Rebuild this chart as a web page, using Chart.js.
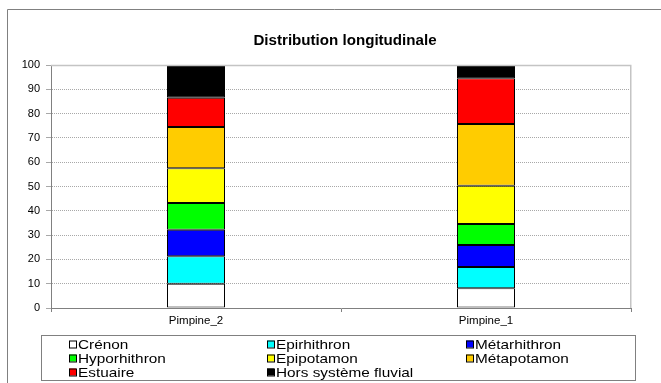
<!DOCTYPE html>
<html>
<head>
<meta charset="utf-8">
<script src="https://cdn.jsdelivr.net/npm/chart.js@4/dist/chart.umd.min.js"></script>
<style>
  html, body { margin: 0; padding: 0; background: #ffffff; }
  #wrap { width: 661px; height: 383px; position: relative; }
</style>
</head>
<body>
<div id="wrap"><canvas id="chart" width="661" height="383"></canvas></div>
<script>
// Stations along the river
const categories = ['Pimpine_2', 'Pimpine_1'];

// Share (%) of each longitudinal zone, per station
const zoneNames = ['Crénon', 'Epirhithron', 'Métarhithron', 'Hyporhithron',
                   'Epipotamon', 'Métapotamon', 'Estuaire', 'Hors système fluvial'];
const crenon       = [10.0, 8.1];
const epirhithron  = [11.3, 8.8];
const metarhithron = [10.9, 9.0];
const hyporhithron = [11.0, 8.7];
const epipotamon   = [14.3, 15.7];
const metapotamon  = [17.0, 25.4];
const estuaire     = [12.0, 18.8];
const horsSysteme  = [13.5, 5.5];

const yTicks = [0, 10, 20, 30, 40, 50, 60, 70, 80, 90, 100];

const zoneColors = ['#FFFFFF', '#00FFFF', '#0000FF', '#00FF00',
                    '#FFFF00', '#FFCC00', '#FF0000', '#000000'];
const zoneValues = [crenon, epirhithron, metarhithron, hyporhithron,
                    epipotamon, metapotamon, estuaire, horsSysteme];

const FONT = "'Liberation Sans', Arial, sans-serif";

const datasets = zoneNames.map((name, i) => ({
  label: name,
  data: zoneValues[i],
  backgroundColor: zoneColors[i],
  borderColor: '#000000',
  borderWidth: 1,
  borderSkipped: false,
  categoryPercentage: 1.0,
  barPercentage: 0.2
}));

// Frame, title, plot border and the boxed three-column legend
const decorations = {
  id: 'decorations',
  beforeDraw(chart) {
    const ctx = chart.ctx;
    ctx.save();
    ctx.fillStyle = '#ffffff';
    ctx.fillRect(0, 0, chart.width, chart.height);
    ctx.strokeStyle = '#808080';
    ctx.lineWidth = 1;
    ctx.beginPath();
    ctx.moveTo(7.5, chart.height);
    ctx.lineTo(7.5, 9.5);
    ctx.lineTo(chart.width, 9.5);
    ctx.stroke();
    ctx.restore();
  },
  afterDraw(chart) {
    const ctx = chart.ctx;
    const a = chart.chartArea;
    ctx.save();

    // plot area edges (top and right)
    ctx.strokeStyle = '#c4c4c4';
    ctx.lineWidth = 1.5;
    ctx.beginPath();
    ctx.moveTo(a.left, a.top + 0.5);
    ctx.lineTo(a.right - 0.25, a.top + 0.5);
    ctx.lineTo(a.right - 0.25, a.bottom);
    ctx.stroke();

    // title
    ctx.fillStyle = '#000000';
    ctx.font = 'bold 14px ' + FONT;
    ctx.textAlign = 'center';
    ctx.textBaseline = 'alphabetic';
    ctx.save();
    ctx.translate(345, 45);
    ctx.scale(1.08, 1);
    ctx.fillText('Distribution longitudinale', 0, 0);
    ctx.restore();

    // legend frame
    ctx.strokeStyle = '#808080';
    ctx.lineWidth = 1;
    ctx.strokeRect(41.5, 335.5, 594, 45);

    // legend entries
    const colX = [69, 267, 466];
    const rowY = [344, 358, 372];
    ctx.font = '13px ' + FONT;
    ctx.textAlign = 'left';
    ctx.textBaseline = 'middle';
    chart.data.datasets.forEach((ds, i) => {
      const x = colX[i % 3];
      const y = rowY[Math.floor(i / 3)];
      ctx.fillStyle = ds.backgroundColor;
      ctx.fillRect(x, y - 3.5, 7, 7);
      ctx.strokeStyle = '#000000';
      ctx.strokeRect(x + 0.5, y - 3.5 + 0.5, 7, 7);
      ctx.fillStyle = '#000000';
      ctx.save();
      ctx.translate(x + 9, y + 1);
      ctx.scale(1.18, 1);
      ctx.fillText(ds.label, 0, 0);
      ctx.restore();
    });
    ctx.restore();
  }
};

new Chart(document.getElementById('chart'), {
  type: 'bar',
  data: { labels: categories, datasets },
  plugins: [decorations],
  options: {
    responsive: false,
    animation: false,
    layout: { padding: { top: 65, right: 30, bottom: 0, left: 0 } },
    plugins: {
      legend: { display: false },
      title: { display: false },
      tooltip: { enabled: false }
    },
    scales: {
      x: {
        stacked: true,
        grid: {
          offset: true,
          drawOnChartArea: false,
          drawTicks: true,
          tickLength: 4,
          color: '#808080'
        },
        border: { color: '#808080', width: 1 },
        ticks: {
          color: '#000000',
          font: { family: FONT, size: 11.5 },
          padding: 2,
          maxRotation: 0
        },
        afterFit(scale) { scale.height = 75; }
      },
      y: {
        stacked: true,
        min: 0,
        max: 100,
        afterBuildTicks(scale) { scale.ticks = yTicks.map(v => ({ value: v })); },
        grid: {
          color: '#a8a8a8',
          tickLength: 5,
          lineWidth: 1
        },
        border: { color: '#808080', width: 1, dash: [1, 1] },
        ticks: {
          color: '#000000',
          font: { family: FONT, size: 11 },
          padding: 6
        },
        afterFit(scale) { scale.width = 51; }
      }
    }
  }
});
</script>
</body>
</html>
